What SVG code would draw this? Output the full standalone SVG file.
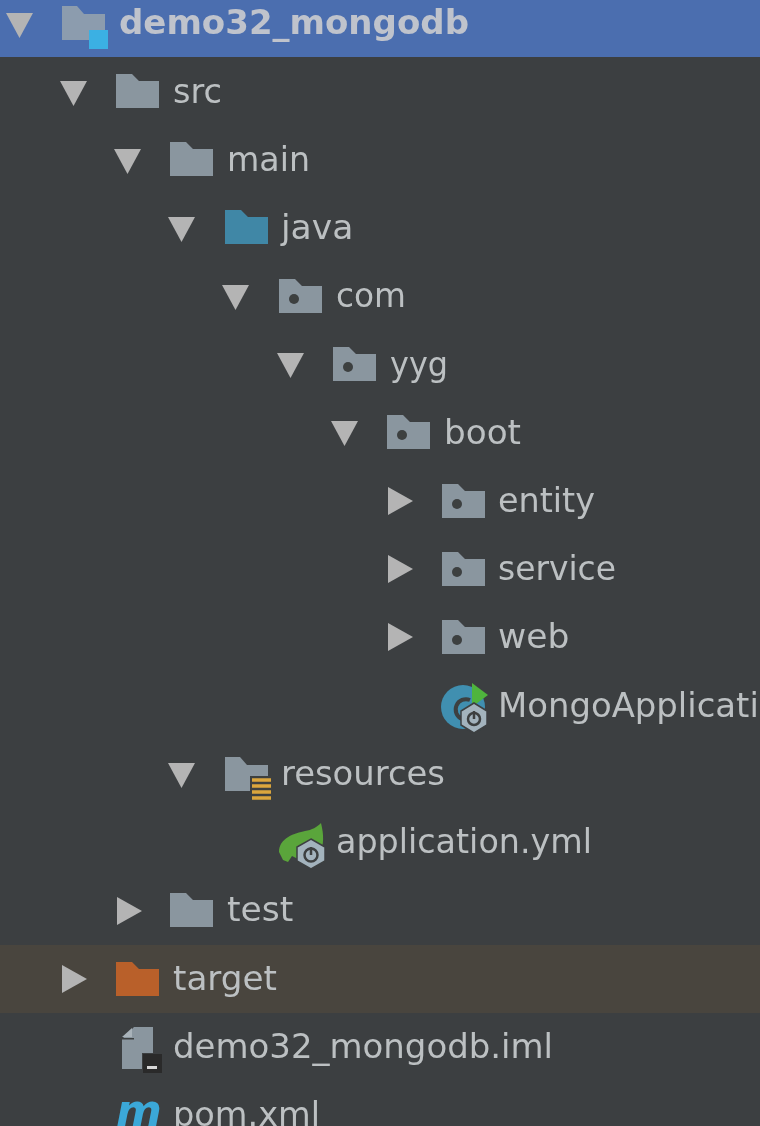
<svg xmlns="http://www.w3.org/2000/svg" xmlns:xlink="http://www.w3.org/1999/xlink" width="760" height="1126" viewBox="0 0 760 1126">
<style>
text{font-family:"DejaVu Sans",sans-serif;font-size:34.5px;fill:#bcc0c2}
.b{font-weight:700;fill:#bfc3cc}
.tri{fill:#b4b4b4}
.f{fill:#8a969f}
</style>
<defs>
<filter id="soft" x="0" y="0" width="100%" height="100%"><feGaussianBlur stdDeviation="0.5"/></filter>
<path id="folder" d="M0 0H16L23 7H43V34H0Z"/>
<g id="pkg"><use href="#folder" class="f"/><circle cx="15" cy="20" r="5" fill="#3c3f41"/></g>
<path id="down" class="tri" d="M0 0H27L13.500 25Z"/>
<path id="right" class="tri" d="M0 0L25 14L0 28Z"/>
</defs>
<rect width="760" height="1126" fill="#3c3f41"/>
<rect width="760" height="57" fill="#4b6eaf"/>
<rect y="945" width="760" height="68" fill="#49453e"/>
<g id="connectors"/>
<g filter="url(#soft)">
<g id="n-root"><use href="#down" x="6" y="13"/><path d="M62 6H77L84 14H105V40H62Z" fill="#8c9cae"/><rect x="89" y="30" width="19" height="19" fill="#3ab0e3"/><text class="b" x="119" y="34" textLength="350" lengthAdjust="spacingAndGlyphs">demo32_mongodb</text></g>
<g id="n-src"><use href="#down" x="60" y="81"/><use href="#folder" class="f" x="116" y="74"/><text x="173" y="103" textLength="49" lengthAdjust="spacingAndGlyphs">src</text></g>
<g id="n-main"><use href="#down" x="114" y="149"/><use href="#folder" class="f" x="170" y="142"/><text x="227" y="171" textLength="83" lengthAdjust="spacingAndGlyphs">main</text></g>
<g id="n-java"><use href="#down" x="168" y="217"/><use href="#folder" fill="#3f87a6" x="225" y="210"/><text x="281" y="239">java</text></g>
<g id="n-com"><use href="#down" x="222" y="285"/><use href="#pkg" x="279" y="279"/><text x="336" y="307" textLength="70" lengthAdjust="spacingAndGlyphs">com</text></g>
<g id="n-yyg"><use href="#down" x="277" y="353"/><use href="#pkg" x="333" y="347"/><text x="390" y="376" textLength="58" lengthAdjust="spacingAndGlyphs">yyg</text></g>
<g id="n-boot"><use href="#down" x="331" y="421"/><use href="#pkg" x="387" y="415"/><text x="444" y="444" textLength="77" lengthAdjust="spacingAndGlyphs">boot</text></g>
<g id="n-entity"><use href="#right" x="388" y="487"/><use href="#pkg" x="442" y="484"/><text x="498" y="512" textLength="97" lengthAdjust="spacingAndGlyphs">entity</text></g>
<g id="n-service"><use href="#right" x="388" y="555"/><use href="#pkg" x="442" y="552"/><text x="498" y="580" textLength="118" lengthAdjust="spacingAndGlyphs">service</text></g>
<g id="n-web"><use href="#right" x="388" y="623"/><use href="#pkg" x="442" y="620"/><text x="498" y="648">web</text></g>
<g id="n-app"><circle cx="463" cy="707" r="22" fill="#3f8fb0"/><path d="M470 700A10 10 0 1 0 462 719" fill="none" stroke="#3c3f41" stroke-width="4"/><path d="M472 683L488 695L472 707Z" fill="#4fb43c"/><path d="M474 703L487 711V725L474 733L461 725V711Z" fill="#a3b3bd" stroke="#3c3f41" stroke-width="1.500"/><circle cx="474" cy="719" r="6" fill="none" stroke="#3c3f41" stroke-width="2.500"/><path d="M474 711V719" stroke="#3c3f41" stroke-width="2.500"/><text x="498" y="717" textLength="303" lengthAdjust="spacingAndGlyphs">MongoApplication</text></g>
<g id="n-resources"><use href="#down" x="168" y="763"/><path class="f" d="M225 757H240L247 765H268V791H225Z"/><rect x="250" y="776" width="22" height="25" fill="#3c3f41"/><path d="M252 780H271M252 786H271M252 792H271M252 798H271" stroke="#dba63c" stroke-width="3.500"/><text x="281" y="785" textLength="164" lengthAdjust="spacingAndGlyphs">resources</text></g>
<g id="n-yml"><path d="M279 852C279 838 295 833 305 831C312 830 317 827 321 823C324 835 324 845 320 852L300 860L292 856L288 862L283 860Z" fill="#5aa53a"/><path d="M311 839L325 847V861L311 869L297 861V847Z" fill="#a3b3bd" stroke="#3c3f41" stroke-width="1.500"/><circle cx="311" cy="855" r="6.500" fill="none" stroke="#3c3f41" stroke-width="2.500"/><path d="M311 847V855" stroke="#3c3f41" stroke-width="2.500"/><text x="336" y="853" textLength="256" lengthAdjust="spacingAndGlyphs">application.yml</text></g>
<g id="n-test"><use href="#right" x="117" y="897"/><use href="#folder" class="f" x="170" y="893"/><text x="227" y="921">test</text></g>
<g id="n-target"><use href="#right" x="62" y="965"/><use href="#folder" fill="#b9602c" x="116" y="962"/><text x="173" y="990" textLength="104" lengthAdjust="spacingAndGlyphs">target</text></g>
<g id="n-iml"><path class="f" d="M134 1027H153V1053H142V1069H122V1039Z"/><path d="M122 1037L132 1028V1037Z" fill="#a9b3ba"/><rect x="122" y="1038" width="12" height="1.500" fill="#3c3f41"/><rect x="143" y="1054" width="19" height="19" fill="#2b2b2b"/><rect x="147" y="1066" width="10" height="3" fill="#d8d8d8"/><text x="173" y="1058" textLength="380" lengthAdjust="spacingAndGlyphs">demo32_mongodb.iml</text></g>
<g id="n-pom"><text x="116" y="1126" style="font-style:italic;font-weight:700;font-size:44px;fill:#3aa8d8">m</text><text x="173" y="1126" textLength="147" lengthAdjust="spacingAndGlyphs">pom.xml</text></g>
</g>
</svg>
